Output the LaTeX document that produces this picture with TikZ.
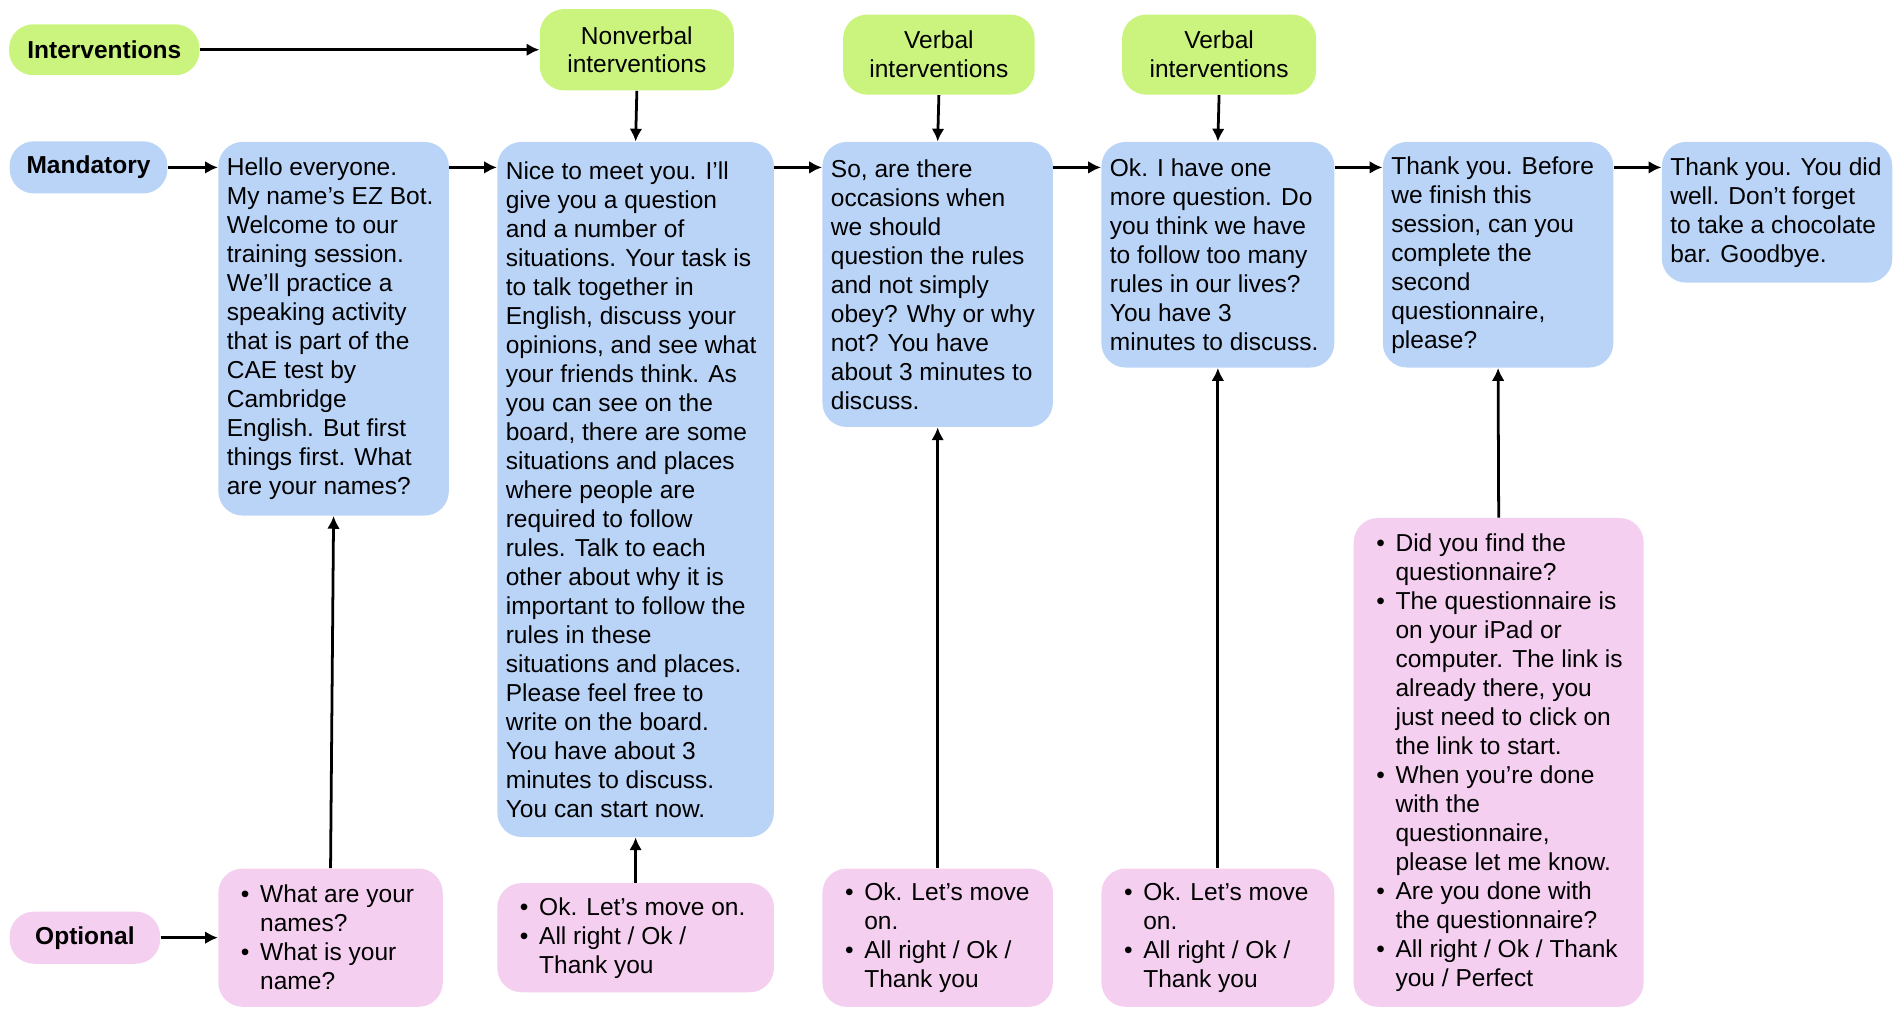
\documentclass[tikz,border=0pt]{standalone}
\usepackage{fontspec}
\setmainfont{Liberation Sans}
\usepackage{enumitem}
\usetikzlibrary{arrows.meta}
\definecolor{gr}{HTML}{CBF47F}
\definecolor{bl}{HTML}{BAD4F8}
\definecolor{pk}{HTML}{F5CFF0}
\tikzset{
 box/.style={rounded corners=0.4cm,inner xsep=0.14cm,inner ysep=0pt,align=left,font=\fontsize{11.5}{13.6}\selectfont},
 g/.style={box,fill=gr,align=center},
 b/.style={box,fill=bl},
 p/.style={box,fill=pk},
 arr/.style={line width=1.3pt,-{Latex[length=6pt,width=6pt]}}
}
\newcommand\bx[2]{\begin{minipage}[c]{#1cm}\raggedright #2\end{minipage}}
\newcommand\bls[2]{\begin{minipage}[c]{#1cm}\begin{itemize}[leftmargin=0.55cm,nosep,label=\textbullet]#2\end{itemize}\end{minipage}}
\begin{document}
\begin{tikzpicture}
\useasboundingbox (0,0) rectangle (31.36,-16.76);
\node[g,minimum width=3.14cm,minimum height=0.84cm] (iv) at (1.72,-0.82) {\textbf{Interventions}};
\node[g,minimum width=3.2cm,minimum height=1.34cm] (nv) at (10.5,-0.82) {Nonverbal\\interventions};
\node[g,minimum width=3.16cm,minimum height=1.32cm] (v1) at (15.48,-0.9) {Verbal\\interventions};
\node[g,minimum width=3.2cm,minimum height=1.32cm] (v2) at (20.1,-0.9) {Verbal\\interventions};
\node[b,align=center,minimum width=2.6cm,minimum height=0.86cm] (m) at (1.46,-2.76) {\textbf{Mandatory}};
\node[b,minimum width=3.8cm,minimum height=6.16cm] (b1) at (5.5,-5.42) {\bx{3.52}{Hello everyone.\\My name’s EZ Bot.\\Welcome to our\\training session.\\We’ll practice a\\speaking activity\\that is part of the\\CAE test by\\Cambridge\\English. But first\\things first. What\\are your names?}};
\node[b,minimum width=4.56cm,minimum height=11.46cm] (b2) at (10.48,-8.07) {\bx{4.28}{Nice to meet you. I’ll\\give you a question\\and a number of\\situations. Your task is\\to talk together in\\English, discuss your\\opinions, and see what\\your friends think. As\\you can see on the\\board, there are some\\situations and places\\where people are\\required to follow\\rules. Talk to each\\other about why it is\\important to follow the\\rules in these\\situations and places.\\Please feel free to\\write on the board.\\You have about 3\\minutes to discuss.\\You can start now.}};
\node[b,minimum width=3.8cm,minimum height=4.7cm] (b3) at (15.46,-4.69) {\bx{3.52}{So, are there\\occasions when\\we should\\question the rules\\and not simply\\obey? Why or why\\not? You have\\about 3 minutes to\\discuss.}};
\node[b,minimum width=3.84cm,minimum height=3.72cm] (b4) at (20.08,-4.2) {\bx{3.56}{Ok. I have one\\more question. Do\\you think we have\\to follow too many\\rules in our lives?\\You have 3\\minutes to discuss.}};
\node[b,minimum width=3.8cm,minimum height=3.72cm] (b5) at (24.7,-4.2) {\bx{3.52}{Thank you. Before\\we finish this\\session, can you\\complete the\\second\\questionnaire,\\please?}};
\node[b,minimum width=3.8cm,minimum height=2.32cm] (b6) at (29.3,-3.5) {\bx{3.52}{Thank you. You did\\well. Don't forget\\to take a chocolate\\bar. Goodbye.}};
\node[p,align=center,minimum width=2.48cm,minimum height=0.86cm] (o) at (1.4,-15.46) {\textbf{Optional}};
\node[p,minimum width=3.7cm,minimum height=2.28cm] (p1) at (5.45,-15.46) {\bls{3.42}{\item What are your\\names?\item What is your\\name?}};
\node[p,minimum width=4.56cm,minimum height=1.8cm] (p2) at (10.48,-15.46) {\bls{4.28}{\item Ok. Let’s move on.\item All right / Ok /\\Thank you}};
\node[p,minimum width=3.8cm,minimum height=2.28cm] (p3) at (15.46,-15.46) {\bls{3.52}{\item Ok. Let’s move\\on.\item All right / Ok /\\Thank you}};
\node[p,minimum width=3.84cm,minimum height=2.28cm] (p4) at (20.08,-15.46) {\bls{3.56}{\item Ok. Let’s move\\on.\item All right / Ok /\\Thank you}};
\node[p,minimum width=4.78cm,minimum height=8.06cm] (p5) at (24.71,-12.57) {\bls{4.5}{\item Did you find the\\questionnaire?\item The questionnaire is\\on your iPad or\\computer. The link is\\already there, you\\just need to click on\\the link to start.\item When you’re done\\with the\\questionnaire,\\please let me know.\item Are you done with\\the questionnaire?\item All right / Ok / Thank\\you / Perfect}};
\draw[arr] (iv.east) -- (nv.west|-iv.east);
\draw[arr] (nv.south) -- (b2.north);
\draw[arr] (v1.south) -- (b3.north);
\draw[arr] (v2.south) -- (b4.north);
\draw[arr] (m.east) -- (b1.west|-m.east);
\draw[arr] (b1.east|-m.east) -- (b2.west|-m.east);
\draw[arr] (b2.east|-m.east) -- (b3.west|-m.east);
\draw[arr] (b3.east|-m.east) -- (b4.west|-m.east);
\draw[arr] (b4.east|-m.east) -- (b5.west|-m.east);
\draw[arr] (b5.east|-m.east) -- (b6.west|-m.east);
\draw[arr] (o.east) -- (p1.west|-o.east);
\draw[arr] (p1.north) -- (b1.south);
\draw[arr] (p2.north) -- (b2.south);
\draw[arr] (p3.north) -- (b3.south);
\draw[arr] (p4.north) -- (b4.south);
\draw[arr] (p5.north) -- (b5.south);
\end{tikzpicture}
\end{document}
